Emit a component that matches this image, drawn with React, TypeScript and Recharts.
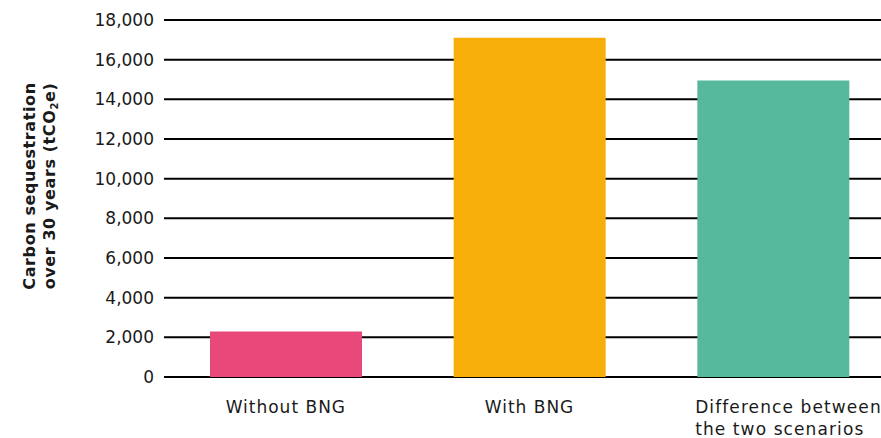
import React from "react";
import { BarChart, Bar, XAxis, YAxis, CartesianGrid, Cell } from "recharts";

const CATEGORIES = ["Without BNG", "With BNG", "Difference between\nthe two scenarios"];
const SEQUESTRATION = [2300, 17100, 14950];
const Y_TICKS = [0, 2000, 4000, 6000, 8000, 10000, 12000, 14000, 16000, 18000];

const BAR_COLORS = ["#E8497A", "#F8AE09", "#56B99E"];
const FONT = "'DejaVu Sans', sans-serif";

const chartData = CATEGORIES.map((name, i) => ({ name, value: SEQUESTRATION[i] }));

function CategoryTick({ x, y, payload }: any) {
  const lines = String(payload.value).split("\n");
  const multi = lines.length > 1;
  const tx = multi ? x - 78 : x;
  return (
    <text
      x={tx}
      y={y}
      textAnchor={multi ? "start" : "middle"}
      fill="#1a1a1a"
      fontFamily={FONT}
      fontSize={17}
      letterSpacing={multi ? 1.1 : 1}
    >
      {lines.map((l, i) => (
        <tspan key={i} x={tx} dy={i === 0 ? 28 : 22}>
          {l}
        </tspan>
      ))}
    </text>
  );
}

function AxisTitle() {
  const cy = 186;
  return (
    <g transform={`translate(0, ${cy}) rotate(-90)`}>
      <text textAnchor="middle" fontFamily={FONT} fontWeight="bold" fontSize={16} letterSpacing={0.6} fill="#1a1a1a">
        <tspan x={0} y={35}>Carbon sequestration</tspan>
        <tspan x={0} y={55}>
          over 30 years (tCO
          <tspan fontSize={10} dy={3}>2</tspan>
          <tspan dy={-3}>e)</tspan>
        </tspan>
      </text>
    </g>
  );
}

export default function App() {
  return (
    <div style={{ position: "absolute", left: 0, top: 0, width: 881, height: 438, overflow: "hidden", background: "#fff" }}>
      <BarChart
        width={895}
        height={438}
        data={chartData}
        margin={{ top: 20, right: 0, left: 0, bottom: 0 }}
        barCategoryGap={0}
      >
        <CartesianGrid vertical={false} stroke="#000" strokeWidth={2} />
        <XAxis
          dataKey="name"
          axisLine={false}
          tickLine={false}
          height={61}
          interval={0}
          tick={<CategoryTick />}
        />
        <YAxis
          width={164}
          domain={[0, 18000]}
          ticks={Y_TICKS}
          axisLine={false}
          tickLine={false}
          tickMargin={4}
          tickFormatter={(v: number) => v.toLocaleString("en-US")}
          tick={{ fill: "#1a1a1a", fontFamily: FONT, fontSize: 17 }}
        />
        <Bar dataKey="value" barSize={152} isAnimationActive={false}>
          {chartData.map((_, i) => (
            <Cell key={i} fill={BAR_COLORS[i]} />
          ))}
        </Bar>
        <AxisTitle />
      </BarChart>
    </div>
  );
}
